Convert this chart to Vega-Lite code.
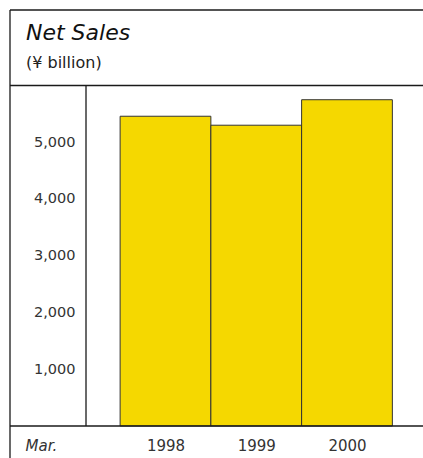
{
  "$schema": "https://vega.github.io/schema/vega-lite/v6.json",
  "width": 413,
  "height": 448,
  "autosize": {"type": "none"},
  "padding": {"left": 10, "top": 10, "right": 0, "bottom": 0},
  "background": "white",
  "config": {
    "view": {"stroke": null},
    "font": "DejaVu Sans",
    "axis": {"minExtent": 0, "maxExtent": 0}
  },
  "title": {
    "text": "Net Sales",
    "subtitle": "(¥ billion)",
    "anchor": "start",
    "frame": "group",
    "orient": "top",
    "offset": -63,
    "dx": 16,
    "font": "DejaVu Sans",
    "fontSize": 22,
    "fontStyle": "italic",
    "fontWeight": "normal",
    "color": "#111111",
    "subtitleFont": "DejaVu Sans",
    "subtitleFontSize": 16,
    "subtitleColor": "#222222",
    "subtitlePadding": 10
  },
  "layer": [
    {
      "data": {"values": [
        {"year": 1998, "sales": 5458},
        {"year": 1999, "sales": 5300},
        {"year": 2000, "sales": 5749}
      ]},
      "mark": {"type": "bar", "width": 90.75, "fill": "#F5D800", "stroke": "#333333", "strokeWidth": 1},
      "encoding": {
        "x": {
          "field": "year", "type": "quantitative",
          "scale": {"domain": [1996.2865, 2000.8375], "nice": false, "zero": false, "padding": 0},
          "axis": {
            "orient": "bottom", "offset": -32, "title": null,
            "values": [1996.452, 1998, 1999, 2000],
            "labelExpr": "datum.value < 1997 ? 'Mar.' : format(datum.value, 'd')",
            "domain": false, "ticks": false, "grid": false,
            "labelPadding": 12, "labelFontSize": 15, "labelColor": "#333333",
            "labelFont": "DejaVu Sans",
            "labelFlush": false,
            "labelAlign": {"condition": {"test": "datum.value < 1997", "value": "left"}, "value": "center"},
            "labelFontStyle": {"condition": {"test": "datum.value < 1997", "value": "italic"}, "value": "normal"},
            "labelOverlap": false
          }
        },
        "y": {
          "field": "sales", "type": "quantitative",
          "scale": {"domain": [-564, 7330], "nice": false, "zero": false, "padding": 0},
          "axis": {
            "orient": "left", "offset": -76, "title": null,
            "values": [1000, 2000, 3000, 4000, 5000],
            "labelExpr": "format(datum.value, ',')",
            "domain": false, "ticks": false, "grid": false,
            "labelPadding": 11, "labelFontSize": 14.5, "labelColor": "#333333",
            "labelFont": "DejaVu Sans",
            "labelBaseline": "middle"
          }
        },
        "y2": {"datum": 0}
      }
    },
    {
      "data": {"values": [{}]},
      "mark": {"type": "rule", "color": "#1a1a1a", "strokeWidth": 1.3},
      "encoding": {"y": {"datum": 6000, "type": "quantitative"}}
    },
    {
      "data": {"values": [{}]},
      "mark": {"type": "rule", "color": "#1a1a1a", "strokeWidth": 1.3},
      "encoding": {"y": {"datum": 0, "type": "quantitative"}}
    },
    {
      "data": {"values": [{}]},
      "mark": {"type": "rule", "color": "#1a1a1a", "strokeWidth": 1.3},
      "encoding": {"y": {"datum": 7330, "type": "quantitative"}}
    },
    {
      "data": {"values": [{}]},
      "mark": {"type": "rule", "color": "#1a1a1a", "strokeWidth": 1.3},
      "encoding": {"x": {"datum": 1996.2865, "type": "quantitative"}}
    },
    {
      "data": {"values": [{}]},
      "mark": {"type": "rule", "color": "#1a1a1a", "strokeWidth": 1.3},
      "encoding": {
        "x": {"datum": 1997.124, "type": "quantitative"},
        "y": {"datum": 0, "type": "quantitative"},
        "y2": {"datum": 6000}
      }
    }
  ]
}
